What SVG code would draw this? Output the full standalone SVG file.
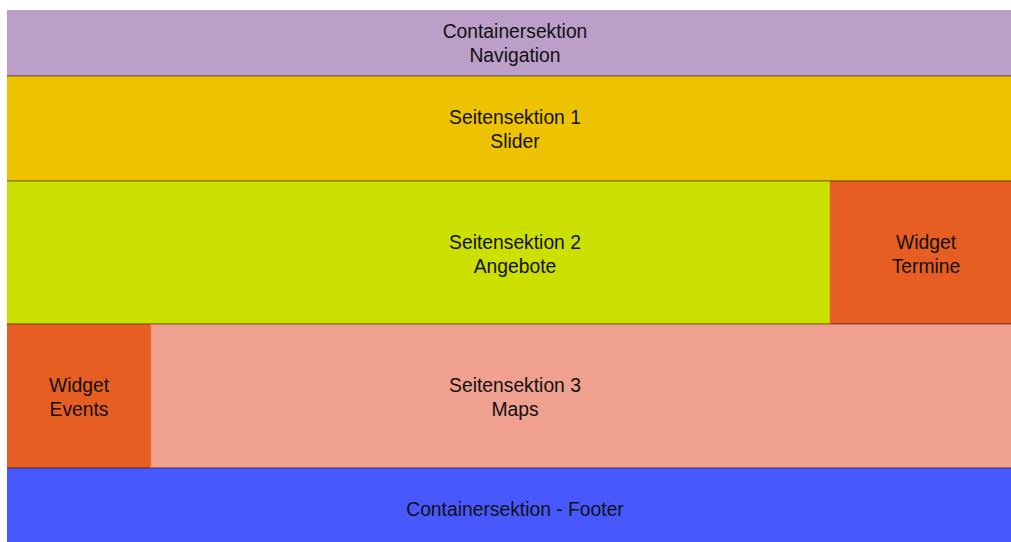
<svg xmlns="http://www.w3.org/2000/svg" width="1011" height="542" viewBox="0 0 1011 542">
<style>
text{font-family:"Liberation Sans",Arial,Helvetica,sans-serif;font-size:19.3px;fill:#111;text-anchor:middle}
.sep{stroke:#000;stroke-opacity:0.45;stroke-width:1.2}
</style>
<rect width="1011" height="542" fill="#fff"/>
<g id="nav">
<rect x="7" y="10" width="1004" height="66" fill="#BB9FC8"/>
<text x="515" y="38">Containersektion</text>
<text x="515" y="62">Navigation</text>
</g>
<g id="slider">
<rect x="7" y="76" width="1004" height="105" fill="#EDC200"/>
<text x="515" y="124">Seitensektion 1</text>
<text x="515" y="148">Slider</text>
</g>
<g id="angebote">
<rect x="7" y="181" width="823" height="143" fill="#CCE000"/>
<text x="515" y="249">Seitensektion 2</text>
<text x="515" y="273">Angebote</text>
</g>
<g id="termine">
<rect x="830" y="181" width="181" height="143" fill="#E65E22"/>
<text x="926" y="249">Widget</text>
<text x="926" y="273">Termine</text>
</g>
<g id="events">
<rect x="7" y="324" width="144" height="144" fill="#E65E22"/>
<text x="79" y="392">Widget</text>
<text x="79" y="416">Events</text>
</g>
<g id="maps">
<rect x="151" y="324" width="860" height="144" fill="#F0A08E"/>
<text x="515" y="392">Seitensektion 3</text>
<text x="515" y="416">Maps</text>
</g>
<g id="footer">
<rect x="7" y="468" width="1004" height="74" fill="#4858FF"/>
<text x="515" y="516">Containersektion - Footer</text>
</g>
<g id="connectors">
<line class="sep" x1="7" y1="75.8" x2="1011" y2="75.8"/>
<line class="sep" x1="7" y1="180.8" x2="1011" y2="180.8"/>
<line class="sep" x1="7" y1="323.8" x2="1011" y2="323.8"/>
<line class="sep" x1="7" y1="467.8" x2="1011" y2="467.8"/>
<line x1="830" y1="181" x2="830" y2="324" stroke="#c08a10" stroke-opacity="0.5" stroke-width="1"/>
<line x1="151" y1="324" x2="151" y2="468" stroke="#f58060" stroke-width="1"/>
</g>
</svg>
